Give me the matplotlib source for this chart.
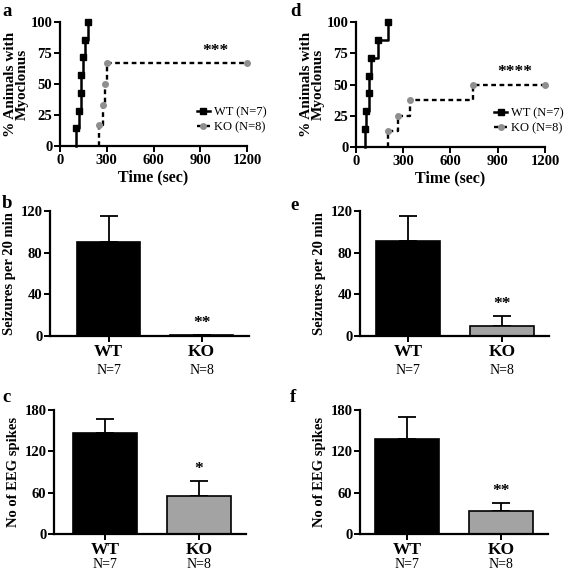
import matplotlib
matplotlib.use('Agg')
from matplotlib import pyplot as plt, transforms

plt.rcParams['font.family'] = ['Liberation Serif', 'DejaVu Serif']
plt.rcParams['font.weight'] = 'bold'
plt.rcParams['axes.labelweight'] = 'bold'

# survival data (time in sec, % with myoclonus)
a_wt_time = [103, 125, 135, 135, 145, 163, 178]
a_wt_pct = [14.3, 28.6, 42.9, 57.1, 71.4, 85.7, 100]
a_ko_time = [251, 274, 289, 300, 1200]
a_ko_pct = [16.7, 33.3, 50, 66.7, 66.7]

d_wt_time = [55, 64, 81, 85, 98, 142, 204]
d_wt_pct = [14.3, 28.6, 42.9, 57.1, 71.4, 85.7, 100]
d_ko_time = [206, 268, 344, 743, 1200]
d_ko_pct = [12.5, 25, 37.5, 50, 50]

groups = ['WT', 'KO']
group_n = ['N=7', 'N=8']

b_mean = [90.5, 1.0]
b_sem = [24.7, 0.0]
e_mean = [91.4, 9.6]
e_sem = [24.1, 9.3]
c_mean = [147, 54.7]
c_sem = [20.4, 22.2]
f_mean = [138.4, 33.9]
f_sem = [31.9, 10.6]

BLACK = '#000000'
GREY_PT = '#8f8f8f'
GREY_BAR = '#a3a3a3'

W, H = 567, 574
fig = plt.figure(figsize=(W / 100, H / 100), dpi=100)


def _axes(x0, y0, x1, y1):
    ax = fig.add_axes([x0 / W, 1 - y1 / H, (x1 - x0) / W, (y1 - y0) / H])
    for s in ['top', 'right']:
        ax.spines[s].set_visible(False)
    for s in ['left', 'bottom']:
        ax.spines[s].set_linewidth(1.6)
    ax.tick_params(width=1.4, length=4, labelsize=10.5, pad=1.5)
    return ax


def _bold_ticks(ax):
    for lbl in ax.get_xticklabels() + ax.get_yticklabels():
        lbl.set_fontweight('bold')


def _survival(ax, wt_t, wt_p, ko_t, ko_p, stars, star_xy, leg_xy):
    ax.plot([wt_t[0]] + wt_t, [0] + wt_p, drawstyle='steps-post', color=BLACK, lw=1.8,
            marker='s', ms=4.5, markevery=list(range(1, len(wt_t) + 1)), label='WT (N=7)', clip_on=False)
    ax.plot([ko_t[0]] + ko_t, [0] + ko_p, drawstyle='steps-post', color=BLACK, lw=1.7, ls=(0, (2, 1.5)),
            marker='o', ms=4, mfc=GREY_PT, mec=GREY_PT, markevery=list(range(1, len(ko_t) + 1)),
            label='KO (N=8)', clip_on=False)
    ax.set_xlim(0, 1200)
    ax.set_ylim(0, 100)
    ax.set_xticks([0, 300, 600, 900, 1200])
    ax.set_yticks([0, 25, 50, 75, 100])
    _bold_ticks(ax)
    ax.set_xlabel('Time (sec)', fontsize=11.5, labelpad=2)
    ax.set_ylabel('% Animals with\nMyoclonus', fontsize=11, labelpad=1, linespacing=0.95)
    ax.text(star_xy[0], star_xy[1], stars, fontsize=12.5, ha='center', va='center', fontweight='bold')
    leg = ax.legend(loc='upper left', bbox_to_anchor=leg_xy, frameon=False, fontsize=9,
                    handlelength=1.05, handletextpad=0.35, borderpad=0, borderaxespad=0,
                    labelspacing=0.25)
    for t in leg.get_texts():
        t.set_fontweight('normal')


def _bars(ax, mean, sem, ymax, yticks, xlim, ylabel, stars, n_y):
    ax.bar([0, 1], mean, width=0.68, color=[BLACK, GREY_BAR], edgecolor=BLACK, linewidth=1.2, zorder=2)
    ax.errorbar([0, 1], mean, yerr=[[0, 0], sem], fmt='none', ecolor=BLACK, elinewidth=1.3,
                capsize=6.8, capthick=1.3, zorder=1)
    ax.set_xlim(*xlim)
    ax.set_ylim(0, ymax)
    ax.set_yticks(yticks)
    ax.set_xticks([0, 1])
    ax.set_xticklabels(groups, fontsize=12.5, fontweight='bold')
    _bold_ticks(ax)
    ax.set_ylabel(ylabel, fontsize=10.5, labelpad=3)
    trans = transforms.blended_transform_factory(ax.transData, ax.transAxes)
    for i, n in enumerate(group_n):
        ax.text(i, n_y, n, transform=trans, ha='center', va='center', fontsize=10, fontweight='normal')
    top = mean[1] + sem[1]
    ax.text(1, top + ymax * 0.035, stars, ha='center', va='bottom', fontsize=12.5, fontweight='bold')


ax_a = _axes(60, 22, 247, 146)
_survival(ax_a, a_wt_time, a_wt_pct, a_ko_time, a_ko_pct, '***', (1000, 77), (0.73, 0.32))

ax_d = _axes(356, 22, 545, 147)
_survival(ax_d, d_wt_time, d_wt_pct, d_ko_time, d_ko_pct, '****', (1010, 60), (0.73, 0.32))

ax_b = _axes(50, 211, 249, 336)
_bars(ax_b, b_mean, b_sem, 120, [0, 40, 80, 120], (-0.63, 1.51), 'Seizures per 20 min', '**', -0.28)

ax_e = _axes(360, 211, 549, 336)
_bars(ax_e, e_mean, e_sem, 120, [0, 40, 80, 120], (-0.51, 1.50), 'Seizures per 20 min', '**', -0.28)

ax_c = _axes(54, 410, 246, 534)
_bars(ax_c, c_mean, c_sem, 180, [0, 60, 120, 180], (-0.54, 1.50), 'No of EEG spikes', '*', -0.25)

ax_f = _axes(360, 410, 548, 534)
_bars(ax_f, f_mean, f_sem, 180, [0, 60, 120, 180], (-0.50, 1.50), 'No of EEG spikes', '**', -0.25)

for letter, x, y in [('a', 2, 12), ('d', 290, 12), ('b', 2, 203), ('e', 290, 205), ('c', 2, 398), ('f', 290, 398)]:
    fig.text(x / W, 1 - y / H, letter, fontsize=13.5, fontweight='bold', va='center', ha='left')

fig.savefig('out.png', dpi=100)
